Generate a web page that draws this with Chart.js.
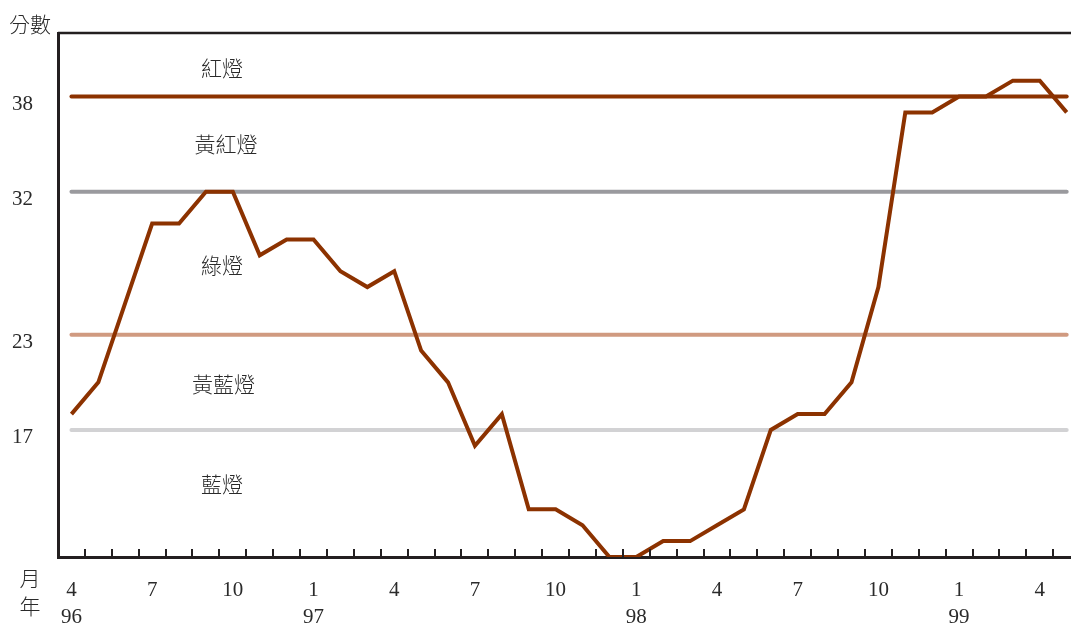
<!DOCTYPE html>
<html>
<head>
<meta charset="utf-8">
<script src="https://cdn.jsdelivr.net/npm/chart.js@4/dist/chart.umd.min.js"></script>
<style>
  html, body { margin: 0; padding: 0; background: #fff; overflow: hidden; }
  #wrap { position: relative; width: 1071px; height: 626px; }
</style>
</head>
<body>
<div id="wrap"><canvas id="signalChart"></canvas></div>
<script>
// Data
const months = [
    '96/4', '96/5', '96/6', '96/7', '96/8', '96/9', '96/10', '96/11', '96/12',
    '97/1', '97/2', '97/3', '97/4', '97/5', '97/6', '97/7', '97/8', '97/9', '97/10', '97/11', '97/12',
    '98/1', '98/2', '98/3', '98/4', '98/5', '98/6', '98/7', '98/8', '98/9', '98/10', '98/11', '98/12',
    '99/1', '99/2', '99/3', '99/4', '99/5'
];
const scores = [
    18, 20, 25, 30, 30, 32, 32, 28, 29,
    29, 27, 26, 27, 22, 20, 16, 18, 12, 12, 11, 9,
    9, 10, 10, 11, 12, 17, 18, 18, 20, 26, 37, 37,
    38, 38, 39, 39, 37
];
const shownMonths = ['1', '4', '7', '10'];
const yTicks = [17, 23, 32, 38];
const thresholds = [38, 32, 23, 17];
const zoneNames = ['紅燈', '黃紅燈', '綠燈', '黃藍燈', '藍燈'];

// Styles
const seriesColor = '#8c3200';
const thresholdColors = ['#8c3200', '#9a9a9e', '#d09a80', '#d2d2d4'];
const numFont = "'Liberation Serif', 'DejaVu Serif', serif";
const cjkFont = "'Noto Sans CJK TC', 'Noto Sans CJK SC', sans-serif";
const textColor = '#2a2a2a';
const axisColor = '#231f20';

// where each zone name sits (x index, y score)
const zoneAnchors = [[5.6, 39.8], [5.75, 35], [5.6, 27.4], [5.65, 19.9], [5.6, 13.6]];

const thresholdSets = thresholds.map((t, k) => ({
    data: months.map((m, i) => ({ x: i, y: t })),
    borderColor: thresholdColors[k],
    borderWidth: 4,
    borderCapStyle: 'round',
    pointRadius: 0,
    order: 2
}));

const decorations = {
    id: 'decorations',
    afterDraw(chart) {
        const { ctx, chartArea, scales } = chart;
        const xs = scales.x, ys = scales.y;
        ctx.save();

        // top frame line
        ctx.strokeStyle = axisColor;
        ctx.lineWidth = 2.5;
        ctx.beginPath();
        ctx.moveTo(chartArea.left, chartArea.top);
        ctx.lineTo(chartArea.right, chartArea.top);
        ctx.stroke();

        // month marks between points, pointing up
        ctx.lineWidth = 2;
        ctx.beginPath();
        for (let i = 0; i < months.length - 1; i++) {
            const px = Math.round(xs.getPixelForValue(i + 0.5));
            ctx.moveTo(px, chartArea.bottom);
            ctx.lineTo(px, chartArea.bottom - 8);
        }
        ctx.stroke();

        // zone names
        ctx.fillStyle = textColor;
        ctx.textAlign = 'center';
        ctx.textBaseline = 'middle';
        ctx.font = '300 21px ' + cjkFont;
        zoneNames.forEach((name, k) => {
            const [ax, ay] = zoneAnchors[k];
            ctx.fillText(name, xs.getPixelForValue(ax), ys.getPixelForValue(ay));
        });

        // axis captions
        ctx.fillText('分數', 30, 24);
        ctx.fillText('月', 30, 578);
        ctx.fillText('年', 30, 606);
        ctx.restore();
    }
};

const ctx = document.getElementById('signalChart').getContext('2d');
const signalChart = new Chart(ctx, {
    type: 'line',
    data: {
        datasets: [{
            data: scores.map((v, i) => ({ x: i, y: v })),
            borderColor: seriesColor,
            borderWidth: 4,
            borderJoinStyle: 'miter',
            pointRadius: 0,
            tension: 0,
            order: 1
        }, ...thresholdSets]
    },
    options: {
        responsive: true,
        maintainAspectRatio: false,
        animation: false,
        layout: { padding: { top: 33, left: 0, right: 0, bottom: 0 } },
        plugins: {
            legend: { display: false },
            tooltip: { enabled: false }
        },
        scales: {
            x: {
                type: 'linear',
                min: -0.5,
                max: 37.16,
                afterBuildTicks: (scale) => {
                    scale.ticks = months
                        .map((m, i) => ({ value: i, month: m.split('/')[1] }))
                        .filter(t => shownMonths.includes(t.month))
                        .map(t => ({ value: t.value }));
                },
                afterFit: (scale) => { scale.height = 69; },
                ticks: {
                    autoSkip: false,
                    maxRotation: 0,
                    padding: 20,
                    color: textColor,
                    font: { family: numFont, size: 21, lineHeight: 1.3 },
                    callback: (value, index) => {
                        const [yy, mm] = months[value].split('/');
                        return (mm === '1' || value === 0) ? [mm, yy] : mm;
                    }
                },
                grid: { display: false, drawTicks: false },
                border: { display: true, color: axisColor, width: 3 }
            },
            y: {
                min: 9,
                max: 42,
                afterBuildTicks: (scale) => {
                    scale.ticks = yTicks.map(v => ({ value: v }));
                },
                afterFit: (scale) => {
                    scale.width = 58;
                    scale.paddingTop = 0;
                    scale.paddingBottom = 0;
                },
                ticks: {
                    padding: 25,
                    labelOffset: 8,
                    color: textColor,
                    font: { family: numFont, size: 21 }
                },
                grid: { display: false, drawTicks: false },
                border: { display: true, color: axisColor, width: 3 }
            }
        }
    },
    plugins: [decorations]
});
</script>
</body>
</html>
